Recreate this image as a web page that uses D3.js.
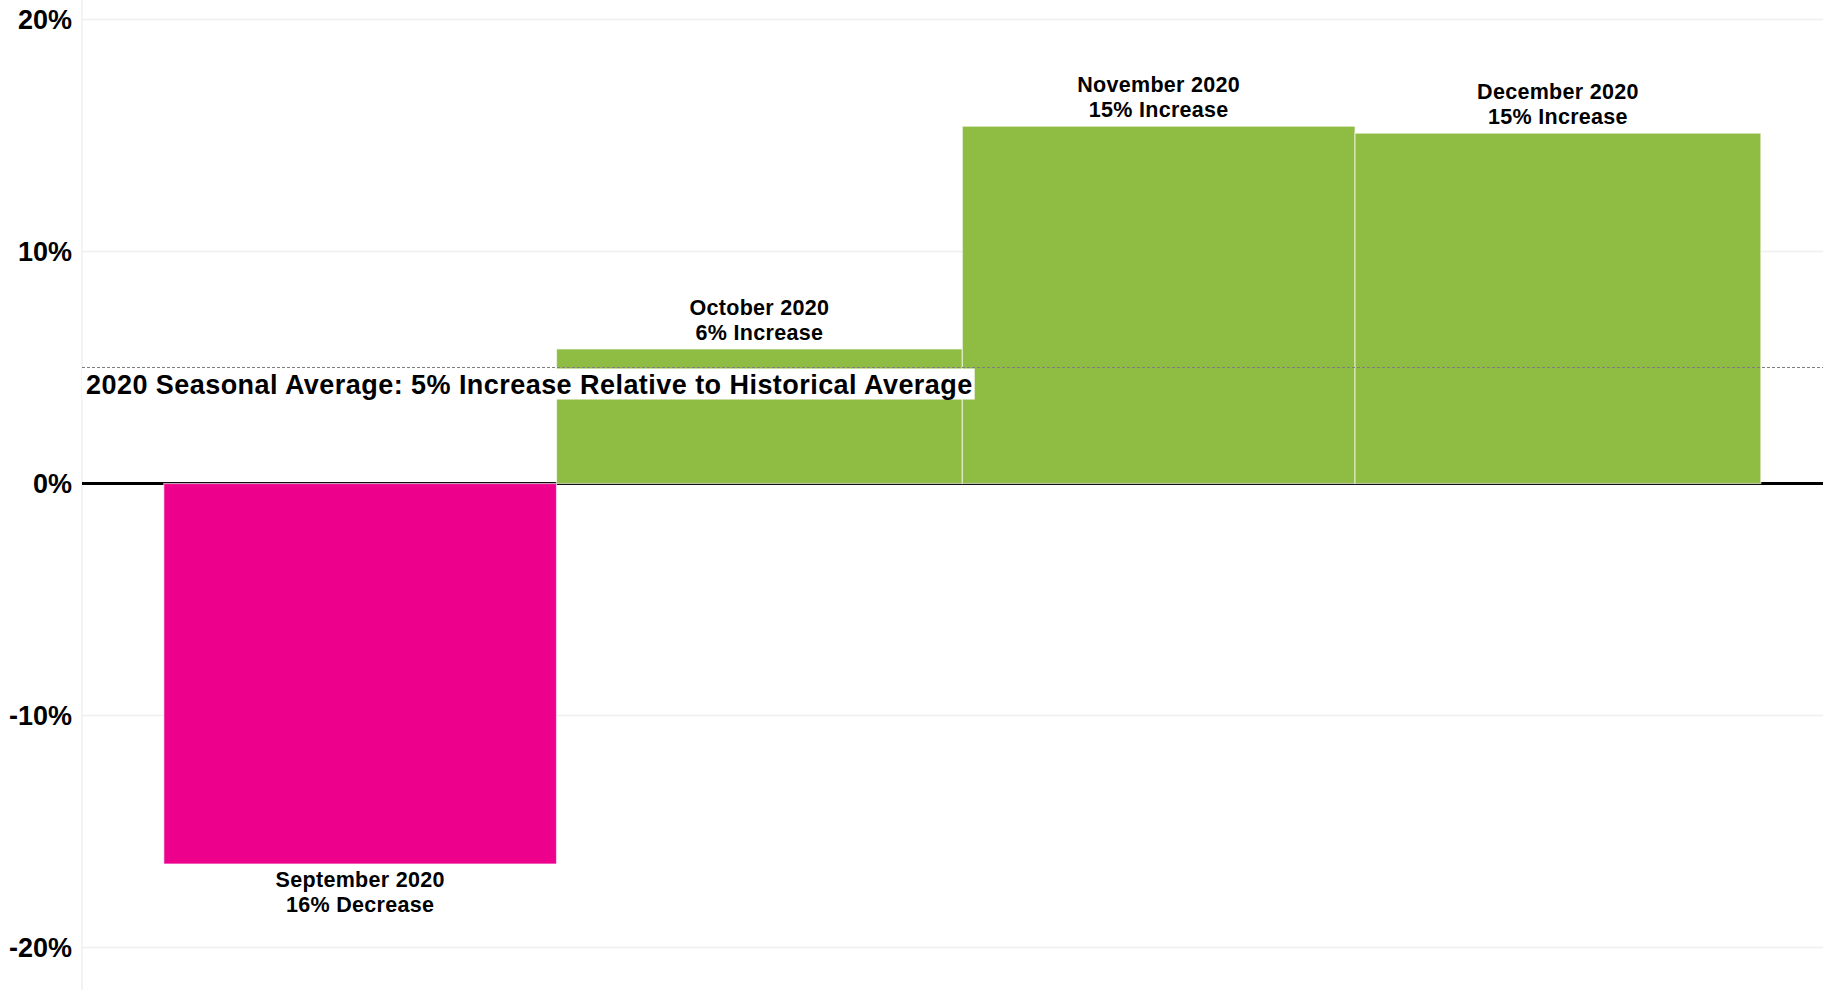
<!DOCTYPE html>
<html>
<head>
<meta charset="utf-8">
<script src="https://cdn.jsdelivr.net/npm/d3@7"></script>
<style>
  html, body { margin: 0; padding: 0; background: #fff; }
  svg { display: block; font-family: "Liberation Sans", Arial, sans-serif; }
</style>
</head>
<body>
<svg id="chart"></svg>
<script>
// values (percent change vs historical average)
const months = ["September 2020", "October 2020", "November 2020", "December 2020"]
const starts = ["2020-09-01", "2020-10-01", "2020-11-01", "2020-12-01"]
const ends = ["2020-10-01", "2020-11-01", "2020-12-01", "2021-01-01"]
const values = [-16.4, 5.8, 15.4, 15.1]
const seasonalAvg = 5.0
const yTicks = [-20, -10, 0, 10, 20]

const width = 1823, height = 990
const left = 82

const svg = d3.select('#chart')
    .attr('width', width)
    .attr('height', height)

const parse = d3.utcParse('%Y-%m-%d')

const x = d3.scaleUtc()
    .domain([new Date(Date.UTC(2020, 7, 25, 18)), new Date(Date.UTC(2021, 0, 5, 18))])
    .range([left, width])

const y = d3.scaleLinear()
    .domain([-21.83, 20.84])
    .range([height, 0])

// grid
svg.append('g')
    .selectAll('line')
    .data(yTicks.filter(d => d !== 0))
    .join('line')
    .attr('x1', left)
    .attr('x2', width)
    .attr('y1', d => y(d))
    .attr('y2', d => y(d))
    .attr('stroke', '#efefef')
    .attr('stroke-width', 1.5)

svg.append('line')
    .attr('x1', left).attr('x2', left)
    .attr('y1', 0).attr('y2', height)
    .attr('stroke', '#efefef')
    .attr('stroke-width', 1.5)

// y axis labels
const yAxis = svg.append('g')
    .attr('transform', `translate(${left - 10},0)`)
    .call(d3.axisLeft(y).tickValues(yTicks).tickFormat(d => d + '%').tickSize(0).tickPadding(0))
yAxis.select('.domain').remove()
yAxis.selectAll('text')
    .attr('font-size', 27)
    .attr('font-weight', 'bold')
    .attr('fill', '#000')
    .attr('font-family', '"Liberation Sans", Arial, sans-serif')

// zero line
svg.append('line')
    .attr('x1', left).attr('x2', width)
    .attr('y1', y(0)).attr('y2', y(0))
    .attr('stroke', '#000')
    .attr('stroke-width', 3)

const bars = months.map((m, i) => ({
    month: m, start: parse(starts[i]), end: parse(ends[i]), value: values[i]
}))

svg.append('g')
    .selectAll('rect')
    .data(bars)
    .join('rect')
    .attr('x', d => x(d.start))
    .attr('width', d => x(d.end) - x(d.start))
    .attr('y', d => y(Math.max(0, d.value)))
    .attr('height', d => Math.abs(y(d.value) - y(0)))
    .attr('fill', d => d.value < 0 ? '#ec008c' : '#8fbc43')
    .attr('stroke', '#fff')
    .attr('stroke-opacity', 0.6)
    .attr('stroke-width', 1.2)

// bar labels
const labels = svg.append('g')
    .selectAll('text')
    .data(bars)
    .join('text')
    .attr('text-anchor', 'middle')
    .attr('font-size', 21.5)
    .attr('letter-spacing', 0.3)
    .attr('font-weight', 'bold')
    .attr('fill', '#000')
    .attr('x', d => (x(d.start) + x(d.end)) / 2)
    .attr('y', d => d.value < 0 ? y(d.value) + 23 : y(d.value) - 34)

labels.append('tspan')
    .attr('x', d => (x(d.start) + x(d.end)) / 2)
    .text(d => d.month)
labels.append('tspan')
    .attr('x', d => (x(d.start) + x(d.end)) / 2)
    .attr('dy', 25)
    .text(d => Math.round(Math.abs(d.value)) + '% ' + (d.value < 0 ? 'Decrease' : 'Increase'))

// seasonal average line
svg.append('line')
    .attr('x1', left).attr('x2', width)
    .attr('y1', y(seasonalAvg)).attr('y2', y(seasonalAvg))
    .attr('stroke', '#7f7f7f')
    .attr('stroke-width', 1)
    .attr('stroke-dasharray', '3,2')

const avgG = svg.append('g')
const avgBox = avgG.append('rect').attr('fill', '#fff')
const avgText = avgG.append('text')
    .attr('x', left + 4)
    .attr('y', y(seasonalAvg) + 26)
    .attr('font-size', 27)
    .attr('letter-spacing', 0.45)
    .attr('font-weight', 'bold')
    .attr('fill', '#000')
    .text(`2020 Seasonal Average: ${Math.round(seasonalAvg)}% Increase Relative to Historical Average`)

const bb = avgText.node().getBBox()
avgBox
    .attr('x', left)
    .attr('y', y(seasonalAvg) + 1)
    .attr('width', bb.width + 6)
    .attr('height', 31)
</script>
</body>
</html>
